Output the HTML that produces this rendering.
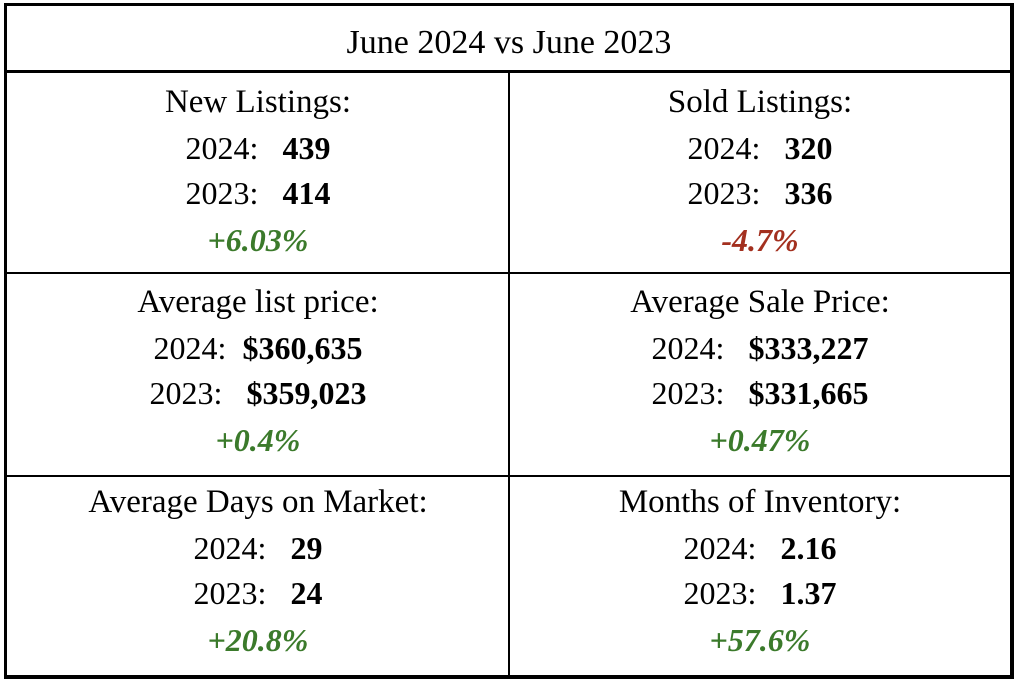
<!DOCTYPE html><html><head><style>
body{margin:0;width:1024px;height:687px;background:#fff;position:relative;font-family:"Liberation Serif",serif;font-size:32px;color:#000}
.l{position:absolute;background:#000}
.t{position:absolute;width:500px;text-align:center;line-height:32px;white-space:pre}
.h{font-size:33px}
b{font-weight:bold}
.g{color:#3b7a2b;font-style:italic;font-weight:bold}
.r{color:#a3301f;font-style:italic;font-weight:bold}
</style></head><body>
<div class="l" style="left:4px;top:3px;width:1010px;height:3px"></div>
<div class="l" style="left:4px;top:675px;width:1010px;height:4px"></div>
<div class="l" style="left:4px;top:3px;width:3px;height:676px"></div>
<div class="l" style="left:1010px;top:3px;width:4px;height:676px"></div>
<div class="l" style="left:4px;top:70px;width:1010px;height:3px"></div>
<div class="l" style="left:4px;top:272px;width:1010px;height:2px"></div>
<div class="l" style="left:4px;top:475px;width:1010px;height:2px"></div>
<div class="l" style="left:508px;top:72px;width:2px;height:605px"></div>
<div class="t" style="left:259px;width:500px;top:27px;font-size:34px">June 2024 vs June 2023</div>

<div class="t h" style="left:8px;top:86px">New Listings:</div>
<div class="t" style="left:8px;top:132px">2024:   <b>439</b></div>
<div class="t" style="left:8px;top:177px">2023:   <b>414</b></div>
<div class="t g" style="left:8px;top:224px">+6.03%</div>

<div class="t h" style="left:510px;top:86px">Sold Listings:</div>
<div class="t" style="left:510px;top:132px">2024:   <b>320</b></div>
<div class="t" style="left:510px;top:177px">2023:   <b>336</b></div>
<div class="t r" style="left:510px;top:224px">-4.7%</div>

<div class="t h" style="left:8px;top:286px">Average list price:</div>
<div class="t" style="left:8px;top:332px">2024:  <b>$360,635</b></div>
<div class="t" style="left:8px;top:377px">2023:   <b>$359,023</b></div>
<div class="t g" style="left:8px;top:424px">+0.4%</div>

<div class="t h" style="left:510px;top:286px">Average Sale Price:</div>
<div class="t" style="left:510px;top:332px">2024:   <b>$333,227</b></div>
<div class="t" style="left:510px;top:377px">2023:   <b>$331,665</b></div>
<div class="t g" style="left:510px;top:424px">+0.47%</div>

<div class="t h" style="left:8px;top:486px">Average Days on Market:</div>
<div class="t" style="left:8px;top:532px">2024:   <b>29</b></div>
<div class="t" style="left:8px;top:577px">2023:   <b>24</b></div>
<div class="t g" style="left:8px;top:624px">+20.8%</div>

<div class="t h" style="left:510px;top:486px">Months of Inventory:</div>
<div class="t" style="left:510px;top:532px">2024:   <b>2.16</b></div>
<div class="t" style="left:510px;top:577px">2023:   <b>1.37</b></div>
<div class="t g" style="left:510px;top:624px">+57.6%</div>
</body></html>
